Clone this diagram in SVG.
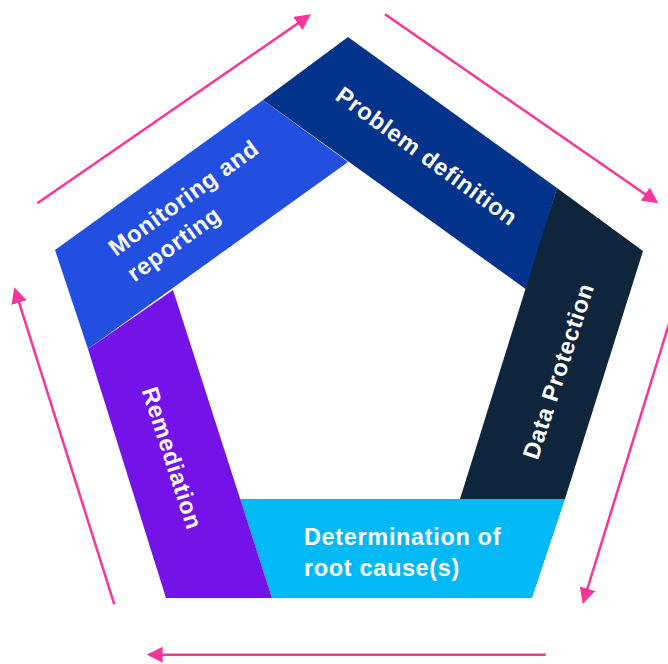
<svg xmlns="http://www.w3.org/2000/svg" width="668" height="664" viewBox="0 0 668 664">
  <style>
    .lbl { font-family: "Liberation Sans", Arial, sans-serif; font-weight: bold; font-size: 23.5px; fill: #ffffff; letter-spacing: 0.65px; }
    .arrow { stroke: #F7369A; stroke-width: 2.5; fill: none; marker-end: url(#ah); }
  </style>
  <defs>
    <marker id="ah" viewBox="0 0 16 16" refX="12" refY="8" markerWidth="16" markerHeight="16" markerUnits="userSpaceOnUse" orient="auto">
      <path d="M0,0 L16,8 L0,16 z" fill="#F7369A"/>
    </marker>
  </defs>
  <rect width="668" height="664" fill="#ffffff"/>

  <g id="problem-definition">
    <polygon points="263,100 348,37 557,188 527,290" fill="#03338B"/>
    <text class="lbl" transform="translate(427,156) rotate(36)" x="0" y="8.4" text-anchor="middle">Problem definition</text>
  </g>

  <g id="data-protection">
    <polygon points="557,188 643,251 565,499 460,499" fill="#0E253C"/>
    <text class="lbl" transform="translate(558,371) rotate(-72)" x="0" y="8.4" text-anchor="middle">Data Protection</text>
  </g>

  <g id="root-cause">
    <polygon points="240,499 565,499 532,598 272,598" fill="#02B8F5"/>
    <text class="lbl" x="304" y="545.3">Determination of</text>
    <text class="lbl" x="304" y="575.8">root cause(s)</text>
  </g>

  <g id="remediation">
    <polygon points="88,349 173,290 272,598 166,598" fill="#7413E7"/>
    <text class="lbl" transform="translate(172.5,458) rotate(72)" x="0" y="8.4" text-anchor="middle">Remediation</text>
  </g>

  <g id="monitoring-reporting">
    <polygon points="55,250 263,100 348,162 88,349" fill="#224FE0"/>
    <g transform="translate(116,257) rotate(-36)">
      <text class="lbl" x="0" y="0">Monitoring and</text>
      <text class="lbl" x="0" y="31.5">reporting</text>
    </g>
  </g>

  <g id="connectors">
    <line class="arrow" x1="37.3" y1="203.3" x2="307.7" y2="16.6"/>
    <line class="arrow" x1="385" y1="14.3" x2="655" y2="201"/>
    <line class="arrow" x1="672" y1="314" x2="583.9" y2="600.2"/>
    <line class="arrow" x1="545.7" y1="654.7" x2="150.7" y2="654.7"/>
    <line class="arrow" x1="114.3" y1="604.3" x2="15.5" y2="291.1"/>
  </g>
</svg>
